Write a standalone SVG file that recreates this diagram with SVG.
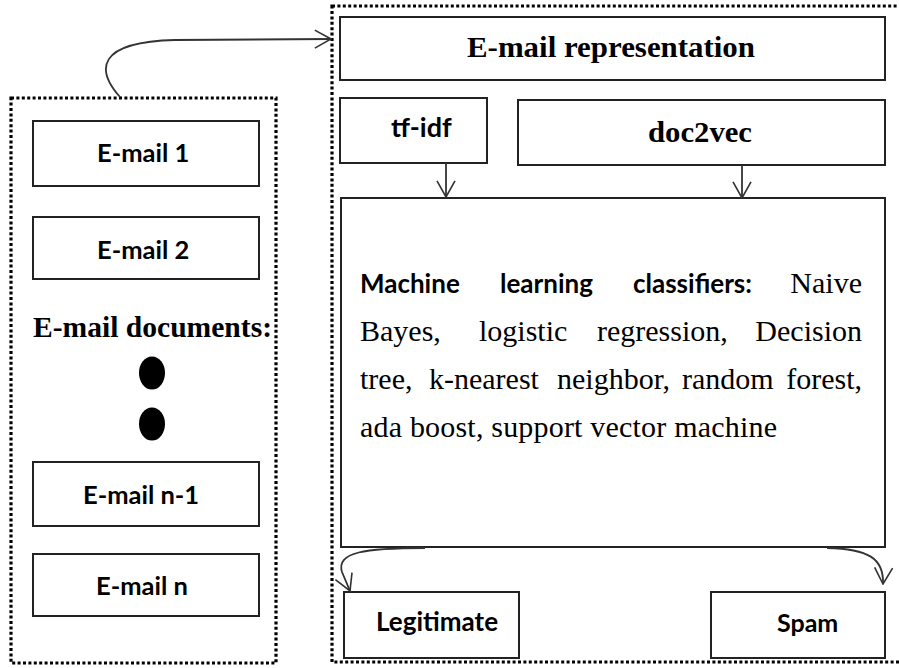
<svg xmlns="http://www.w3.org/2000/svg" width="899" height="668" viewBox="0 0 899 668">
<style>
.dot{fill:none;stroke:#000;stroke-width:3.2;stroke-dasharray:3 2.4}
.box{fill:#fff;stroke:#222;stroke-width:2}
.sb{font-family:Lato,"Open Sans","Liberation Sans",sans-serif;font-weight:bold;fill:#000}
.fb{font-family:"Liberation Serif","DejaVu Serif",serif;font-weight:bold;font-size:29px;fill:#000}
.fr{font-family:"Liberation Serif","DejaVu Serif",serif;font-size:30px;fill:#000}
.conn{fill:none;stroke:#333;stroke-width:1.8}
</style>
<defs>
<marker id="v" viewBox="0 0 20 22" refX="19" refY="11" markerWidth="18" markerHeight="20" markerUnits="userSpaceOnUse" orient="auto">
<path d="M1,1 L19,11 L1,21" fill="none" stroke="#333" stroke-width="1.8"/>
</marker>
</defs>

<g id="documents">
<rect class="dot" x="11" y="98" width="265" height="565"/>
</g>
<g id="email1"><rect class="box" x="33" y="121" width="226" height="65"/><text class="sb" x="97" y="162" font-size="25.5">E-mail 1</text></g>
<g id="email2"><rect class="box" x="33" y="217" width="226" height="62"/><text class="sb" x="97" y="259" font-size="25.5">E-mail 2</text></g>
<g id="doclabel"><text class="fb" x="33" y="337" textLength="239" lengthAdjust="spacingAndGlyphs">E-mail documents:</text></g>
<g id="dots"><ellipse cx="152" cy="373" rx="13" ry="16.5" fill="#000"/><ellipse cx="152" cy="424" rx="13" ry="16.5" fill="#000"/></g>
<g id="emailn1"><rect class="box" x="33" y="462" width="226" height="64"/><text class="sb" x="83" y="504" font-size="25.5">E-mail n-1</text></g>
<g id="emailn"><rect class="box" x="33" y="554" width="226" height="62"/><text class="sb" x="96" y="595" font-size="25.5">E-mail n</text></g>

<g id="pipeline">
<rect class="dot" x="332" y="6" width="590" height="656"/>
</g>
<g id="representation"><rect class="box" x="340" y="17" width="545" height="63"/><text class="fb" x="467" y="57" textLength="288" lengthAdjust="spacingAndGlyphs">E-mail representation</text></g>
<g id="tfidf"><rect class="box" x="340" y="98" width="147" height="65"/><text class="sb" x="391" y="137" font-size="27">tf-idf</text></g>
<g id="doc2vec"><rect class="box" x="518" y="100" width="367" height="65"/><text class="fb" x="648" y="142" textLength="104" lengthAdjust="spacingAndGlyphs">doc2vec</text></g>
<g id="classifiers">
<rect class="box" x="341" y="198" width="544" height="349"/>
<text class="sb" y="293" font-size="26"><tspan x="360">Machine</tspan><tspan x="500">learning</tspan><tspan x="633">classifiers:</tspan></text>
<text class="fr" x="862" y="293" text-anchor="end">Naive</text>
<text class="fr" y="341"><tspan x="360">Bayes,</tspan><tspan x="479">logistic</tspan><tspan x="597">regression,</tspan></text>
<text class="fr" x="862" y="341" text-anchor="end">Decision</text>
<text class="fr" y="389"><tspan x="360">tree,</tspan><tspan x="429">k-nearest</tspan><tspan x="557">neighbor,</tspan><tspan x="682">random</tspan></text>
<text class="fr" x="862" y="389" text-anchor="end">forest,</text>
<text class="fr" x="360" y="437" textLength="417">ada boost, support vector machine</text>
</g>
<g id="legitimate"><rect class="box" x="344" y="592" width="175" height="66"/><text class="sb" x="376" y="631" font-size="26">Legitimate</text></g>
<g id="spam"><rect class="box" x="711" y="592" width="174" height="66"/><text class="sb" x="777" y="632" font-size="25">Spam</text></g>

<g id="connectors">
<path class="conn" d="M120,97 C96,70 96,42 175,40 L331,39" marker-end="url(#v)"/>
<path class="conn" d="M446,163 L446,197" marker-end="url(#v)"/>
<path class="conn" d="M742,165 L742,198" marker-end="url(#v)"/>
<path class="conn" d="M425,548 C365,548 336,552 342,572 L350,591" marker-end="url(#v)"/>
<path class="conn" d="M827,548 C868,549 884,558 883,584" marker-end="url(#v)"/>
</g>
</svg>
